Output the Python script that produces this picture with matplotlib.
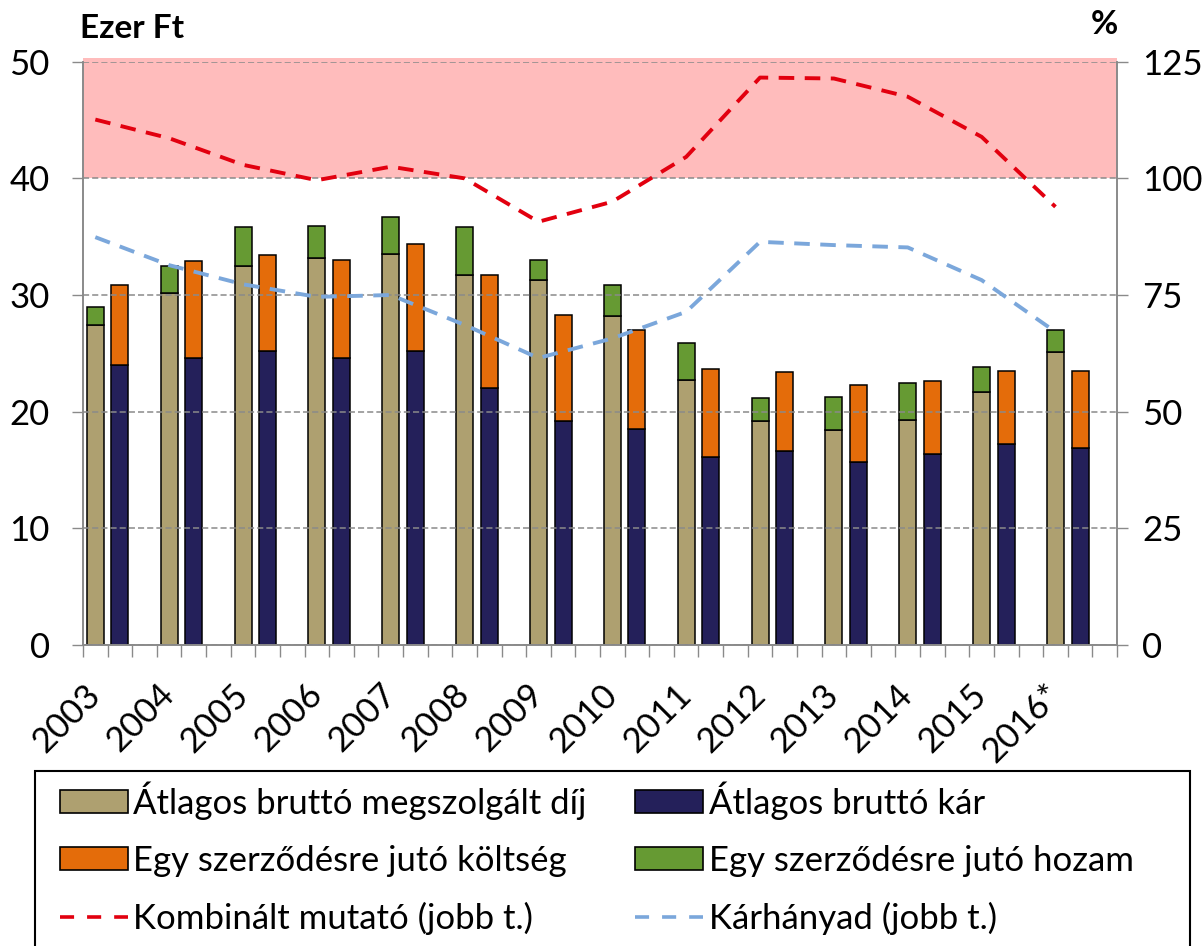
import matplotlib
matplotlib.use("Agg")
import matplotlib.pyplot as plt
from matplotlib.patches import Patch, Rectangle
from matplotlib.lines import Line2D
import numpy as np

plt.rcParams['font.family'] = ['Lato', 'DejaVu Sans']

years = ["2003", "2004", "2005", "2006", "2007", "2008", "2009",
         "2010", "2011", "2012", "2013", "2014", "2015", "2016*"]

# Ezer Ft
premium = [27.4, 30.2, 32.5, 33.2, 33.5, 31.7, 31.3, 28.2, 22.7, 19.2, 18.4, 19.3, 21.7, 25.1]
yield_ = [1.6, 2.3, 3.3, 2.7, 3.2, 4.1, 1.7, 2.7, 3.2, 2.0, 2.9, 3.2, 2.1, 1.9]
claims = [24.0, 24.6, 25.2, 24.6, 25.2, 22.0, 19.2, 18.5, 16.1, 16.6, 15.7, 16.4, 17.2, 16.9]
cost = [6.9, 8.3, 8.2, 8.4, 9.2, 9.7, 9.1, 8.5, 7.6, 6.8, 6.6, 6.2, 6.3, 6.6]

# % (right axis)
combined = [112.6, 108.6, 102.9, 99.6, 102.5, 100.0, 90.7, 95.0, 104.6, 121.6, 121.4, 117.5, 108.9, 93.9]
loss_ratio = [87.4, 81.4, 77.3, 74.6, 75.0, 68.6, 61.5, 65.7, 71.4, 86.4, 85.7, 85.2, 78.2, 67.1]

c_prem = '#aea070'
c_claim = '#24205a'
c_cost = '#e46c0a'
c_yield = '#669a33'
c_red = '#e2000f'
c_blue = '#7ba7db'
c_grid = '#8a8a8a'

W, H = 1203, 946
fig = plt.figure(figsize=(W / 100, H / 100), dpi=100)
ax = fig.add_axes([83 / W, 1 - 645 / H, (1117 - 83) / W, (645 - 61.7) / H])

n = len(years)
x1 = np.arange(n) * 3 + 0.5
x2 = np.arange(n) * 3 + 1.5
bw = 0.69

# red zone above 100 %
band = ax.axhspan(40, 50.35, color='#ffbcbc', lw=0, zorder=0)
band.set_clip_on(False)

ax.bar(x1, premium, bw, color=c_prem, edgecolor='black', lw=1.1, zorder=2)
ax.bar(x1, yield_, bw, bottom=premium, color=c_yield, edgecolor='black', lw=1.1, zorder=2)
ax.bar(x2, claims, bw, color=c_claim, edgecolor='black', lw=1.1, zorder=2)
ax.bar(x2, cost, bw, bottom=claims, color=c_cost, edgecolor='black', lw=1.1, zorder=2)

ax.set_xlim(0, 3 * n)
ax.set_ylim(0, 50)
ax.set_yticks(range(0, 51, 10))
ax.yaxis.grid(True, color=c_grid, ls=(0, (4, 2)), lw=1.1, zorder=1)
ax.set_axisbelow(False)
for gl in ax.get_ygridlines():
    gl.set_zorder(1)

ax.set_xticks(x1)
ax.set_xticklabels(years)
ax.set_xticks(np.arange(0, 3 * n + 1), minor=True)
ax.tick_params(axis='x', which='major', length=0, pad=32, labelsize=25)
ax.tick_params(axis='x', which='minor', length=8.5, width=1, color=c_grid)
for lab in ax.get_xticklabels():
    lab.set_rotation(45)
    lab.set_ha('right')
    lab.set_va('center')
    lab.set_rotation_mode('anchor')
ax.tick_params(axis='y', length=8, width=1, color=c_grid, labelsize=25, pad=16)

for s in ['left', 'right', 'bottom']:
    ax.spines[s].set_color(c_grid)
    ax.spines[s].set_linewidth(1.2)
ax.spines['top'].set_visible(False)

ax2 = ax.twinx()
ax2.set_ylim(0, 125)
ax2.set_yticks(range(0, 126, 25))
ax2.plot(x1, combined, color=c_red, ls=(0, (4, 2.7)), lw=2.8)
ax2.plot(x1, loss_ratio, color=c_blue, ls=(0, (4, 2.7)), lw=2.8)
ax2.tick_params(axis='y', length=8, width=1, color=c_grid, labelsize=25, pad=10)
for s in ['left', 'right', 'bottom']:
    ax2.spines[s].set_color(c_grid)
    ax2.spines[s].set_linewidth(1.2)
ax2.spines['top'].set_visible(False)

fig.text(80 / W, 1 - 28 / H, "Ezer Ft", fontsize=24, fontweight='bold', va='center', ha='left')
fig.text(1118 / W, 1 - 25 / H, "%", fontsize=24, fontweight='bold', va='center', ha='right')

handles = [
    Patch(facecolor=c_prem, edgecolor='black', lw=1.2),
    Patch(facecolor=c_cost, edgecolor='black', lw=1.2),
    Line2D([0], [0], color=c_red, ls=(0, (3.9, 3.6)), lw=2.6),
    Patch(facecolor=c_claim, edgecolor='black', lw=1.2),
    Patch(facecolor=c_yield, edgecolor='black', lw=1.2),
    Line2D([0], [0], color=c_blue, ls=(0, (3.9, 3.6)), lw=2.6),
]
labels = ["Átlagos bruttó megszolgált díj", "Egy szerződésre jutó költség",
          "Kombinált mutató (jobb t.)", "Átlagos bruttó kár",
          "Egy szerződésre jutó hozam", "Kárhányad (jobb t.)"]
fig.legend(handles, labels, ncol=2, loc='upper left', frameon=False,
           bbox_to_anchor=(60 / W, 1 - 781 / H), borderaxespad=0, borderpad=0,
           fontsize=25, handlelength=1.96, handleheight=0.65, handletextpad=0.15,
           columnspacing=1.4, labelspacing=0.72)

fig.patches.append(Rectangle((35 / W, -0.05), (1190 - 35) / W, 0.05 + (946 - 771) / H,
                             transform=fig.transFigure, fill=False, ec='black', lw=1.5))

fig.savefig("out.png", dpi=100)
